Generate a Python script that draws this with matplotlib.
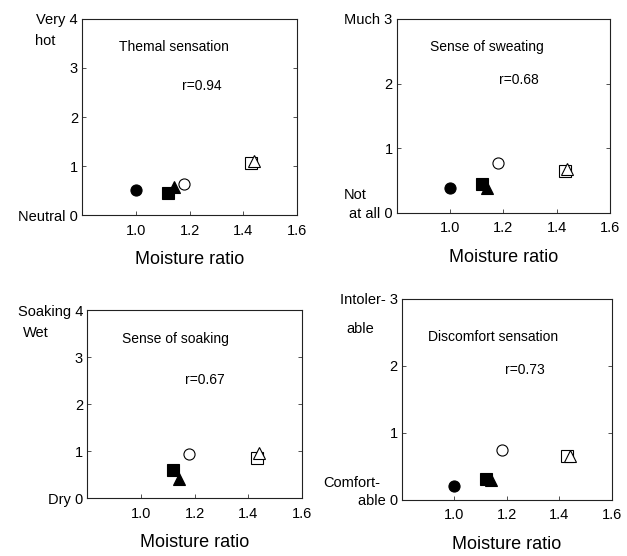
import numpy as np
import matplotlib
matplotlib.use("Agg")
import matplotlib.pyplot as plt

plt.rcParams['font.family'] = ['Liberation Sans', 'DejaVu Sans']

# moisture ratio of each garment condition
ratio = [1.00, 1.12, 1.14, 1.18, 1.43, 1.44]
# marker per condition: filled circle, filled square, filled triangle, open circle, open square, open triangle
shapes = ['o', 's', '^', 'o', 's', '^']
filled = [True, True, True, False, False, False]

thermal = [0.52, 0.46, 0.58, 0.63, 1.06, 1.10]
sweating = [0.39, 0.45, 0.39, 0.77, 0.65, 0.68]
soaking = [np.nan, 0.60, 0.40, 0.93, 0.85, 0.97]
discomfort = [0.21, 0.31, 0.30, 0.74, 0.65, 0.66]

titles = ["Themal sensation", "Sense of sweating", "Sense of soaking", "Discomfort sensation"]
r_labels = ["r=0.94", "r=0.68", "r=0.67", "r=0.73"]
xticks = [1.0, 1.2, 1.4, 1.6]

fig = plt.figure(figsize=(6.27, 5.56), dpi=100)

# values, ymax, axes rect, top label + extra line, bottom label + extra line,
# title pos, r pos
panels = [
    (thermal, 4, [0.131, 0.613, 0.343, 0.353],
     ("Very 4", "hot", -0.125, 0.885, 'right'), ("Neutral 0", None, 0, 0, 'right'),
     (0.17, 0.855), (0.465, 0.66)),
    (sweating, 3, [0.633, 0.617, 0.340, 0.349],
     ("Much 3", None, 0, 0, 'right'), ("at all 0", "Not", -0.25, 0.095, 'left'),
     (0.155, 0.856), (0.48, 0.686)),
    (soaking, 4, [0.139, 0.104, 0.343, 0.338],
     ("Soaking 4", "Wet", -0.18, 0.88, 'right'), ("Dry 0", None, 0, 0, 'right'),
     (0.163, 0.846), (0.456, 0.628)),
    (discomfort, 3, [0.641, 0.101, 0.335, 0.3615],
     ("Intoler- 3", "able", -0.13, 0.85, 'right'), ("able 0", "Comfort-", -0.105, 0.085, 'right'),
     (0.124, 0.81), (0.49, 0.647)),
]

for i, (vals, ymax, rect, top, bottom, tpos, rpos) in enumerate(panels):
    ax = fig.add_axes(rect)
    for x, y, m, f in zip(ratio, vals, shapes, filled):
        if np.isnan(y):
            continue
        ax.plot(x, y, marker=m, linestyle='none', markersize=8,
                markerfacecolor='black' if f else 'white',
                markeredgecolor='black', markeredgewidth=0.8)
    ax.set_xlim(0.8, 1.6)
    ax.set_ylim(0, ymax)
    ax.set_xticks(xticks)
    ax.set_xticklabels(["%.1f" % t for t in xticks], fontsize=10.5)
    ax.set_yticks(range(ymax + 1))
    labels = [str(k) for k in range(ymax + 1)]
    labels[0] = bottom[0]
    labels[-1] = top[0]
    ax.set_yticklabels(labels, fontsize=10.5)
    ax.tick_params(direction='in', length=3, width=0.6, top=False, right=True,
                   pad=6, color='#333333')
    ax.tick_params(axis='y', pad=3)
    for s in ax.spines.values():
        s.set_linewidth(0.8)
        s.set_color('#222222')
    # second line of the end-point descriptions
    for lab in (top, bottom):
        if lab[1]:
            ax.text(lab[2], lab[3], lab[1], transform=ax.transAxes, ha=lab[4],
                    va='center', fontsize=10.5)
    ax.text(tpos[0], tpos[1], titles[i], transform=ax.transAxes, fontsize=10,
            va='center')
    ax.text(rpos[0], rpos[1], r_labels[i], transform=ax.transAxes, fontsize=10,
            va='center')
    ax.set_xlabel("Moisture ratio", fontsize=13, labelpad=10)

fig.savefig("out.png", dpi=100, facecolor='white')
